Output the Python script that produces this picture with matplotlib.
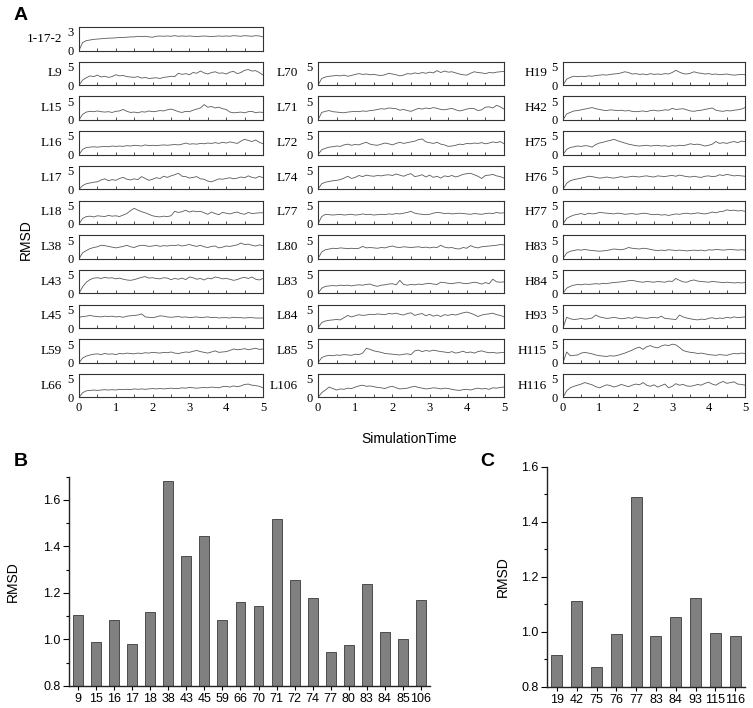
import numpy as np
import matplotlib
matplotlib.use("Agg")
import matplotlib.pyplot as plt
from matplotlib.ticker import MultipleLocator

# ──────────────────────────────────────────────────────────────────────────────
# DATA  (RMSD traces, one value every 0.1 ns)
# ──────────────────────────────────────────────────────────────────────────────

time_ns = np.linspace(0, 5, 51)

rmsd_1_17_2 = [0, 1.3, 1.6, 1.7, 1.8, 1.85, 1.9, 1.95, 2.0, 2.0, 2.05, 2.1, 2.1, 2.15, 2.2, 2.2, 2.3,
               2.25, 2.3, 2.2, 2.15, 2.3, 2.35, 2.3, 2.35, 2.3, 2.4, 2.3, 2.35, 2.3, 2.35, 2.3, 2.25,
               2.3, 2.35, 2.3, 2.25, 2.3, 2.35, 2.3, 2.35, 2.3, 2.4, 2.35, 2.3, 2.4, 2.35, 2.3, 2.4,
               2.35, 2.2]

L9 = [0, 1.4, 2.0, 2.5, 2.3, 2.7, 2.2, 2.4, 2.1, 2.3, 2.8, 2.5, 2.6, 2.3, 2.2, 2.1, 2.3, 1.9, 2.1,
      1.8, 1.9, 2.0, 1.8, 2.1, 2.2, 2.4, 2.3, 3.2, 2.9, 3.1, 2.8, 3.4, 3.2, 3.8, 3.3, 3.0, 3.4, 3.6,
      3.2, 3.3, 3.0, 3.5, 3.7, 3.1, 3.4, 4.0, 4.2, 3.8, 3.9, 3.4, 2.7]
L15 = [0, 1.5, 2.1, 2.3, 2.2, 2.4, 2.2, 2.1, 2.2, 2.0, 2.3, 2.4, 2.8, 2.3, 2.0, 2.1, 1.9, 2.2, 2.1,
       2.4, 2.2, 2.3, 2.5, 2.4, 2.7, 2.9, 2.6, 2.2, 2.0, 2.3, 2.2, 2.6, 2.9, 3.2, 4.1, 3.4, 3.6, 3.2,
       3.4, 3.0, 2.8, 2.1, 1.9, 2.0, 2.1, 1.9, 2.2, 2.3, 1.9, 2.1, 2.0]
L16 = [0, 1.4, 1.9, 2.0, 2.1, 2.0, 2.1, 2.2, 2.1, 2.3, 2.2, 2.3, 2.2, 2.4, 2.3, 2.5, 2.4, 2.3, 2.6,
       2.4, 2.5, 2.4, 2.5, 2.6, 2.5, 2.6, 2.7, 2.6, 2.8, 3.1, 2.8, 2.9, 2.8, 3.0, 2.9, 3.1, 3.0, 3.2,
       3.0, 3.3, 3.1, 3.4, 3.2, 3.0, 3.6, 4.1, 3.8, 3.5, 3.9, 3.3, 2.9]
L17 = [0, 1.0, 1.5, 1.7, 1.9, 2.0, 2.5, 2.8, 2.3, 2.6, 2.4, 2.9, 3.2, 2.7, 2.5, 2.8, 2.6, 3.4, 2.9,
       2.4, 2.7, 3.1, 2.9, 3.5, 3.2, 3.6, 3.9, 4.3, 3.5, 3.4, 3.0, 3.2, 3.4, 2.8, 2.7, 2.2, 2.0, 2.4,
       2.8, 2.7, 2.9, 3.1, 2.8, 3.0, 3.3, 3.1, 3.6, 3.2, 3.0, 3.5, 3.1]
L18 = [0, 1.5, 2.0, 2.1, 1.9, 2.2, 2.1, 2.0, 2.3, 2.1, 2.2, 2.0, 2.4, 2.8, 3.6, 4.2, 3.7, 3.3, 3.0,
       2.6, 2.2, 2.0, 1.9, 2.1, 2.0, 2.2, 3.4, 3.1, 3.3, 3.7, 3.2, 3.5, 3.3, 3.4, 3.0, 2.6, 3.2, 2.8,
       2.5, 3.1, 2.9, 2.7, 3.0, 3.2, 2.8, 2.6, 3.1, 2.8, 2.9, 3.0, 3.0]
L38 = [0, 1.6, 2.2, 2.7, 3.0, 3.2, 3.6, 3.5, 3.3, 3.1, 2.9, 3.1, 3.3, 3.6, 3.2, 3.0, 3.4, 3.6, 3.5,
       3.3, 3.4, 3.6, 3.3, 3.5, 3.4, 3.6, 3.5, 3.7, 3.4, 3.6, 3.8, 3.5, 3.3, 3.6, 3.2, 3.0, 3.3, 3.4,
       2.9, 3.1, 3.4, 3.3, 3.5, 3.7, 4.2, 3.8, 3.9, 3.6, 3.4, 3.7, 3.5]
L43 = [0, 1.8, 3.0, 3.7, 4.1, 4.2, 4.0, 4.3, 4.1, 4.2, 3.9, 4.1, 3.8, 3.6, 3.5, 3.7, 4.0, 4.3, 4.5,
       4.1, 4.2, 4.0, 3.9, 4.2, 4.1, 3.7, 4.0, 3.8, 4.1, 3.7, 4.4, 4.2, 3.8, 4.0, 3.6, 4.1, 3.9, 4.4,
       4.2, 3.9, 4.0, 3.8, 3.5, 3.7, 4.1, 4.3, 4.0, 4.4, 3.8, 3.6, 4.0]
L45 = [2.9, 3.1, 3.2, 3.4, 3.2, 3.1, 3.0, 3.2, 3.1, 3.2, 3.0, 3.1, 2.9, 3.2, 3.3, 3.4, 3.5, 3.8, 3.0,
       2.9, 2.8, 3.0, 3.3, 3.2, 3.0, 2.9, 3.0, 3.1, 2.9, 3.0, 2.8, 2.9, 3.0, 2.8, 2.9, 3.0, 2.8, 2.9,
       2.7, 2.8, 2.8, 2.7, 2.9, 2.8, 2.8, 2.7, 2.8, 2.8, 2.7, 2.7, 2.7]
L59 = [0, 1.3, 1.8, 2.1, 2.3, 2.4, 2.2, 2.5, 2.3, 2.4, 2.2, 2.5, 2.4, 2.6, 2.5, 2.4, 2.6, 2.5, 2.7,
       2.6, 2.8, 2.7, 2.6, 2.8, 2.7, 2.9, 2.6, 2.5, 2.7, 2.9, 2.8, 3.1, 3.3, 3.0, 2.8, 2.6, 2.9, 3.2,
       2.8, 2.9, 3.0, 3.3, 3.7, 3.5, 3.6, 3.8, 3.5, 3.7, 3.9, 3.6, 3.7]
L66 = [0, 1.3, 1.8, 1.9, 2.0, 1.9, 2.0, 2.1, 2.0, 2.1, 2.0, 2.2, 2.1, 2.2, 2.1, 2.3, 2.2, 2.3, 2.2,
       2.3, 2.4, 2.3, 2.4, 2.3, 2.4, 2.5, 2.4, 2.4, 2.6, 2.5, 2.7, 2.6, 2.5, 2.6, 2.7, 2.6, 2.8, 2.7,
       2.6, 2.9, 3.0, 2.8, 3.1, 2.9, 3.1, 3.5, 3.6, 3.3, 3.2, 3.0, 2.6]

L70 = [0, 1.8, 2.2, 2.4, 2.5, 2.6, 2.5, 2.7, 2.4, 2.6, 2.9, 3.1, 2.9, 3.0, 2.8, 2.9, 2.7, 2.6, 2.8,
       3.2, 3.0, 2.8, 2.5, 2.7, 3.1, 3.0, 3.3, 3.1, 3.4, 3.2, 3.5, 3.3, 3.9, 3.4, 3.8, 3.5, 3.6, 3.3,
       3.0, 2.8, 2.7, 3.2, 3.6, 3.4, 3.3, 3.1, 3.4, 3.3, 3.5, 3.6, 3.7]
L71 = [0, 2.0, 2.3, 2.5, 2.2, 2.1, 2.0, 1.9, 2.1, 2.2, 2.3, 2.2, 2.4, 2.3, 2.5, 2.6, 2.8, 3.0, 2.9,
       3.2, 3.1, 3.0, 2.6, 2.8, 2.5, 2.3, 2.7, 3.1, 2.9, 3.2, 3.0, 3.3, 3.1, 2.8, 2.7, 2.9, 3.1, 2.7,
       2.4, 2.6, 2.9, 3.1, 3.0, 2.5, 2.7, 3.4, 3.5, 3.2, 3.9, 3.5, 2.9]
L72 = [0, 1.3, 1.7, 2.0, 2.1, 2.3, 2.2, 2.6, 2.8, 2.5, 2.7, 2.6, 3.0, 3.3, 2.8, 2.6, 2.5, 2.8, 3.1,
       2.9, 2.6, 3.0, 3.3, 3.0, 3.2, 3.4, 3.6, 4.0, 4.2, 3.4, 3.2, 3.0, 3.3, 2.8, 2.6, 2.2, 2.3, 2.5,
       2.8, 2.7, 3.0, 2.9, 3.1, 3.0, 3.2, 2.9, 3.1, 3.4, 3.2, 3.5, 2.9]
L74 = [0, 1.5, 1.9, 2.1, 2.3, 2.4, 2.6, 3.0, 3.5, 2.9, 3.2, 3.7, 3.4, 3.8, 3.6, 3.5, 3.7, 3.6, 3.8,
       3.9, 3.7, 4.1, 3.8, 3.5, 3.9, 4.2, 3.4, 3.6, 3.9, 3.3, 3.8, 3.2, 3.5, 3.0, 3.6, 3.4, 3.7, 3.3,
       3.6, 4.0, 4.2, 4.3, 3.9, 3.5, 2.9, 3.7, 3.8, 4.0, 3.6, 3.4, 3.0]
L77 = [0, 2.0, 2.6, 2.5, 2.4, 2.5, 2.6, 2.4, 2.5, 2.6, 2.4, 2.5, 2.7, 2.5, 2.6, 2.4, 2.5, 2.6, 2.5,
       2.7, 2.6, 2.8, 2.7, 2.9, 3.1, 3.4, 2.9, 2.7, 2.6, 2.5, 2.6, 2.9, 3.1, 3.0, 2.8, 2.9, 2.7, 2.8,
       2.9, 2.8, 2.7, 2.6, 2.8, 2.7, 2.6, 2.8, 2.9, 2.8, 3.1, 2.9, 3.0]
L80 = [0, 1.8, 2.4, 2.6, 2.8, 2.7, 2.9, 2.8, 2.7, 2.8, 2.7, 2.8, 3.3, 2.9, 3.0, 2.9, 2.8, 3.0, 2.9,
       3.2, 3.4, 3.1, 3.0, 3.2, 3.1, 3.0, 3.1, 3.2, 3.0, 3.1, 2.9, 3.1, 3.0, 3.6, 3.1, 2.9, 3.0, 2.7,
       2.6, 3.0, 2.8, 3.5, 3.1, 2.9, 3.2, 3.3, 3.4, 3.5, 3.6, 3.8, 3.7]
L83 = [0, 1.4, 1.9, 2.0, 2.1, 2.0, 2.2, 2.1, 2.2, 2.0, 2.2, 2.3, 2.2, 2.4, 2.5, 2.1, 1.9, 2.2, 2.3,
       2.5, 2.6, 2.3, 3.5, 2.4, 2.2, 2.4, 2.3, 2.5, 2.4, 2.6, 2.7, 2.5, 2.4, 3.0, 2.9, 2.7, 2.6, 2.8,
       2.9, 2.7, 2.6, 2.8, 3.0, 2.8, 2.5, 2.9, 2.6, 3.8, 3.1, 3.0, 3.1]
L84 = [0, 1.5, 1.9, 2.1, 2.2, 2.3, 2.2, 2.8, 3.4, 3.0, 3.3, 3.6, 3.4, 3.5, 3.7, 3.6, 3.8, 3.7, 3.6,
       3.9, 3.8, 4.0, 3.7, 3.5, 3.9, 4.1, 3.4, 3.7, 3.9, 3.3, 3.7, 3.2, 3.5, 3.1, 3.6, 3.4, 3.7, 3.5,
       3.8, 4.1, 4.3, 4.0, 3.6, 3.1, 3.5, 3.7, 3.8, 4.0, 3.6, 3.4, 3.0]
L85 = [0, 1.4, 1.8, 2.0, 1.9, 2.1, 2.0, 2.2, 2.1, 2.0, 2.3, 2.2, 2.6, 3.9, 3.6, 3.2, 3.0, 2.8, 2.5,
       2.4, 2.3, 2.2, 2.1, 2.3, 2.4, 2.2, 3.2, 3.4, 3.0, 3.3, 3.1, 3.4, 3.2, 3.0, 2.9, 2.7, 3.0, 2.6,
       2.8, 3.1, 2.7, 2.9, 2.6, 3.0, 3.2, 2.9, 2.7, 2.8, 2.6, 2.7, 2.8]
L106 = [0, 1.3, 2.0, 2.8, 2.4, 2.0, 2.3, 2.2, 2.5, 2.4, 2.8, 3.1, 3.3, 3.0, 3.1, 2.9, 2.7, 2.6, 2.4,
        2.8, 3.0, 2.6, 2.3, 2.4, 2.5, 2.8, 3.0, 2.7, 2.5, 2.3, 2.4, 2.6, 2.5, 2.3, 2.5, 2.4, 2.2, 2.0,
        1.9, 2.1, 2.2, 2.0, 2.3, 2.5, 2.3, 2.4, 2.2, 2.6, 2.5, 2.7, 2.8]

H19 = [0, 1.6, 2.1, 2.4, 2.3, 2.4, 2.3, 2.5, 2.4, 2.6, 2.7, 2.8, 2.7, 2.9, 3.0, 3.1, 3.3, 3.6, 3.4,
       3.0, 3.1, 2.9, 3.0, 2.8, 3.1, 2.9, 3.0, 2.9, 3.1, 3.0, 3.4, 4.0, 3.5, 3.1, 3.0, 3.2, 3.6, 3.3,
       3.2, 3.0, 3.1, 2.9, 3.0, 2.8, 2.9, 3.0, 2.8, 2.7, 2.8, 2.9, 2.8]
H42 = [0, 1.6, 2.0, 2.4, 2.5, 2.7, 2.9, 3.1, 3.3, 3.0, 2.8, 2.6, 2.5, 2.7, 2.6, 2.5, 2.6, 2.4, 2.5,
       2.3, 2.2, 2.3, 2.4, 2.2, 2.5, 2.6, 2.4, 2.5, 2.7, 2.6, 3.1, 2.8, 2.9, 3.0, 2.7, 2.4, 2.3, 2.5,
       2.6, 2.8, 3.0, 3.2, 2.6, 2.4, 2.3, 2.5, 2.4, 2.6, 2.7, 2.9, 3.3]
H75 = [0, 1.4, 1.9, 2.1, 2.3, 2.2, 2.4, 2.3, 2.0, 2.7, 3.1, 3.3, 3.6, 3.8, 4.1, 3.7, 3.4, 3.1, 2.8,
       2.6, 2.4, 2.3, 2.4, 2.5, 2.3, 2.4, 2.5, 2.3, 2.4, 2.2, 2.4, 2.3, 2.5, 2.4, 2.6, 2.9, 2.7, 2.8,
       2.6, 2.3, 2.5, 2.8, 3.5, 3.0, 3.2, 3.0, 3.3, 3.5, 3.2, 3.6, 3.5]
H76 = [0, 1.6, 2.3, 2.6, 2.8, 3.0, 3.2, 3.5, 3.4, 3.2, 3.0, 3.1, 3.3, 3.1, 3.0, 3.2, 3.4, 3.2, 3.3,
       3.5, 3.4, 3.3, 3.5, 3.6, 3.4, 3.3, 3.6, 3.5, 3.4, 3.6, 3.7, 3.5, 3.8, 3.6, 3.4, 3.3, 3.5, 3.3,
       3.2, 3.5, 3.6, 3.4, 3.5, 3.9, 3.7, 4.0, 3.8, 3.6, 3.7, 3.6, 3.5]
H77 = [0, 1.5, 2.0, 2.4, 2.6, 2.8, 2.5, 2.9, 2.7, 2.8, 3.1, 3.0, 2.9, 2.8, 2.7, 2.9, 2.8, 2.6, 2.7,
       2.8, 2.6, 2.7, 2.9, 2.8, 2.6, 2.5, 2.6, 2.4, 2.5, 2.3, 2.5, 2.7, 2.6, 2.8, 2.9, 2.7, 2.8, 3.0,
       2.8, 2.7, 2.9, 3.2, 3.0, 3.3, 3.4, 3.8, 3.6, 3.7, 3.5, 3.6, 3.4]
H83 = [0, 1.5, 2.0, 2.2, 2.4, 2.3, 2.5, 2.3, 2.2, 2.1, 2.0, 2.1, 2.2, 2.4, 2.6, 2.5, 2.4, 2.6, 3.0,
       2.8, 2.7, 2.6, 2.8, 2.7, 2.5, 2.3, 2.2, 2.3, 2.2, 2.4, 2.3, 2.2, 2.3, 2.2, 2.1, 2.2, 2.3, 2.2,
       2.3, 2.1, 2.4, 2.3, 2.5, 2.4, 2.3, 2.4, 2.5, 2.4, 2.3, 2.4, 2.3]
H84 = [0, 1.4, 1.9, 2.2, 2.4, 2.3, 2.5, 2.4, 2.5, 2.6, 2.5, 2.7, 2.6, 2.8, 2.9, 3.0, 3.1, 3.2, 3.4,
       3.5, 3.3, 3.1, 3.0, 3.2, 3.1, 3.0, 3.2, 3.1, 3.0, 3.3, 3.2, 4.0, 3.5, 3.1, 3.0, 3.4, 3.6, 3.3,
       3.2, 3.1, 3.0, 3.2, 3.1, 3.0, 2.9, 3.0, 2.9, 2.8, 2.9, 2.8, 2.9]
H93 = [0, 2.9, 2.5, 2.3, 2.4, 2.6, 2.4, 2.5, 2.7, 3.5, 3.0, 2.8, 2.6, 2.7, 2.9, 2.7, 2.5, 2.6, 2.8,
       2.6, 3.0, 2.8, 2.7, 2.6, 2.8, 2.9, 2.7, 3.2, 2.6, 2.5, 2.4, 2.3, 3.5, 3.0, 2.7, 2.5, 2.3, 2.2,
       2.4, 2.3, 2.6, 2.8, 2.5, 2.7, 2.6, 2.9, 2.7, 3.0, 2.8, 2.9, 3.0]
H115 = [0, 2.9, 1.9, 2.0, 2.1, 2.6, 2.8, 2.6, 2.4, 2.1, 1.9, 1.8, 1.7, 1.9, 1.8, 2.0, 2.3, 2.6, 3.0,
        3.4, 3.9, 4.2, 3.6, 4.3, 4.6, 4.2, 4.0, 4.5, 4.8, 4.6, 5.0, 4.8, 4.1, 3.3, 3.0, 2.8, 2.7, 2.5,
        2.6, 2.4, 2.2, 2.1, 2.0, 2.2, 2.1, 2.0, 2.3, 2.5, 2.4, 2.6, 2.5]
H116 = [0, 1.8, 2.6, 3.0, 3.3, 3.6, 4.0, 3.7, 3.4, 2.9, 2.6, 3.0, 3.4, 3.2, 2.8, 3.1, 3.5, 3.2, 2.9,
        3.3, 3.6, 3.4, 4.0, 3.3, 3.0, 3.4, 2.8, 3.2, 3.6, 2.6, 3.0, 3.7, 3.3, 3.5, 3.1, 3.0, 3.2, 3.5,
        3.3, 3.8, 4.1, 3.6, 3.3, 3.9, 4.3, 3.8, 4.0, 4.2, 3.6, 3.5, 3.3]

col1_names = ["L9", "L15", "L16", "L17", "L18", "L38", "L43", "L45", "L59", "L66"]
col1_data = [L9, L15, L16, L17, L18, L38, L43, L45, L59, L66]
col2_names = ["L70", "L71", "L72", "L74", "L77", "L80", "L83", "L84", "L85", "L106"]
col2_data = [L70, L71, L72, L74, L77, L80, L83, L84, L85, L106]
col3_names = ["H19", "H42", "H75", "H76", "H77", "H83", "H84", "H93", "H115", "H116"]
col3_data = [H19, H42, H75, H76, H77, H83, H84, H93, H115, H116]

# average RMSD bars
light_sites = ["9", "15", "16", "17", "18", "38", "43", "45", "59", "66",
               "70", "71", "72", "74", "77", "80", "83", "84", "85", "106"]
light_rmsd = [1.105, 0.99, 1.085, 0.98, 1.12, 1.68, 1.36, 1.445, 1.085, 1.16,
              1.145, 1.52, 1.255, 1.18, 0.945, 0.975, 1.24, 1.033, 1.0, 1.17]
heavy_sites = ["19", "42", "75", "76", "77", "83", "84", "93", "115", "116"]
heavy_rmsd = [0.916, 1.113, 0.872, 0.992, 1.49, 0.985, 1.055, 1.123, 0.996, 0.985]

# ──────────────────────────────────────────────────────────────────────────────
# LAYOUT HELPERS (pixel boxes on a 753x708 canvas)
# ──────────────────────────────────────────────────────────────────────────────

W, H = 753, 708
SERIF = "Liberation Serif"
SANS = "Liberation Sans"

fig = plt.figure(figsize=(W / 100, H / 100), dpi=100)


def px_axes(left, top, right, bottom):
    return fig.add_axes([left / W, 1 - bottom / H, (right - left) / W, (bottom - top) / H])


def trace_panel(left, right, bottom, name, values, ytop, ytick, show_x, name_off):
    ax = px_axes(left, bottom - 23.5, right, bottom)
    ax.plot(time_ns, values, color="#5a5a5a", lw=0.6)
    ax.set_xlim(0, 5)
    ax.set_ylim(0, ytop)
    ax.set_yticks([0, ytick])
    ax.xaxis.set_major_locator(MultipleLocator(1))
    ax.xaxis.set_minor_locator(MultipleLocator(0.5))
    ax.tick_params(axis="both", which="both", direction="in", length=2.5, width=0.6,
                   top=False, right=False, color="#333333")
    ax.tick_params(axis="y", length=0, pad=4)
    ax.tick_params(axis="x", pad=3)
    for lab in ax.get_yticklabels() + ax.get_xticklabels():
        lab.set_fontfamily(SERIF)
        lab.set_fontsize(9)
    if not show_x:
        ax.set_xticklabels([])
    for sp in ax.spines.values():
        sp.set_linewidth(0.8)
        sp.set_color("#333333")
    ax.text(-name_off / (right - left), 0.5, name, transform=ax.transAxes,
            ha="right", va="center", family=SERIF, fontsize=9.5)
    return ax


# ──────────────────────────────────────────────────────────────────────────────
# PANEL A: RMSD TRACES
# ──────────────────────────────────────────────────────────────────────────────

ROW0_BOTTOM = 50.5
ROW_STEP = 34.7

trace_panel(79, 263, ROW0_BOTTOM, "1-17-2", rmsd_1_17_2, 3.8, 3, False, 17)

columns = [
    (79, 263, col1_names, col1_data, 17),
    (318, 504, col2_names, col2_data, 20),
    (563, 745, col3_names, col3_data, 16),
]
for left, right, names, data, off in columns:
    for i, (name, vals) in enumerate(zip(names, data)):
        bottom = ROW0_BOTTOM + ROW_STEP * (i + 1)
        trace_panel(left, right, bottom, name, vals, 6.3, 5, i == len(names) - 1, off)

fig.text(26 / W, 1 - 240 / H, "RMSD", rotation=90, ha="center", va="center",
         family=SANS, fontsize=10)
fig.text(409 / W, 1 - 439 / H, "SimulationTime", ha="center", va="center",
         family=SANS, fontsize=10)

# ──────────────────────────────────────────────────────────────────────────────
# PANELS B & C: AVERAGE RMSD BARS
# ──────────────────────────────────────────────────────────────────────────────


def bar_panel(rect, sites, values, ymax):
    ax = px_axes(*rect)
    x = np.arange(len(sites))
    ax.bar(x, values, width=0.55, bottom=0, color="#808080", edgecolor="#3a3a3a", linewidth=0.6)
    ax.set_xlim(-0.5, len(sites) - 0.5)
    ax.set_ylim(0.8, ymax)
    ax.set_xticks(x)
    ax.set_xticklabels(sites)
    ax.yaxis.set_major_locator(MultipleLocator(0.2))
    ax.yaxis.set_minor_locator(MultipleLocator(0.1))
    ax.spines["top"].set_visible(False)
    ax.spines["right"].set_visible(False)
    for sp in ("left", "bottom"):
        ax.spines[sp].set_linewidth(1.0)
        ax.spines[sp].set_color("#222222")
    ax.tick_params(axis="both", which="major", direction="out", length=4, width=0.8,
                   labelsize=9, pad=2)
    ax.tick_params(axis="y", which="minor", direction="out", length=2.5, width=0.8)
    ax.tick_params(axis="x", which="major", length=3)
    for lab in ax.get_yticklabels() + ax.get_xticklabels():
        lab.set_fontfamily(SANS)
    ax.set_ylabel("RMSD", family=SANS, fontsize=10)
    return ax


axB = bar_panel((69, 476.7, 430, 686), light_sites, light_rmsd, 1.7)
axB.yaxis.set_label_coords(-0.135, 0.5)
axC = bar_panel((547, 466.7, 745, 686.7), heavy_sites, heavy_rmsd, 1.6)
axC.yaxis.set_label_coords(-0.19, 0.5)

fig.text(14 / W, 1 - 16 / H, "A", family=SANS, fontweight="bold", fontsize=14,
         ha="left", va="center")
fig.text(14 / W, 1 - 462 / H, "B", family=SANS, fontweight="bold", fontsize=14,
         ha="left", va="center")
fig.text(480 / W, 1 - 462 / H, "C", family=SANS, fontweight="bold", fontsize=14,
         ha="left", va="center")

fig.savefig("out.png", dpi=100)
